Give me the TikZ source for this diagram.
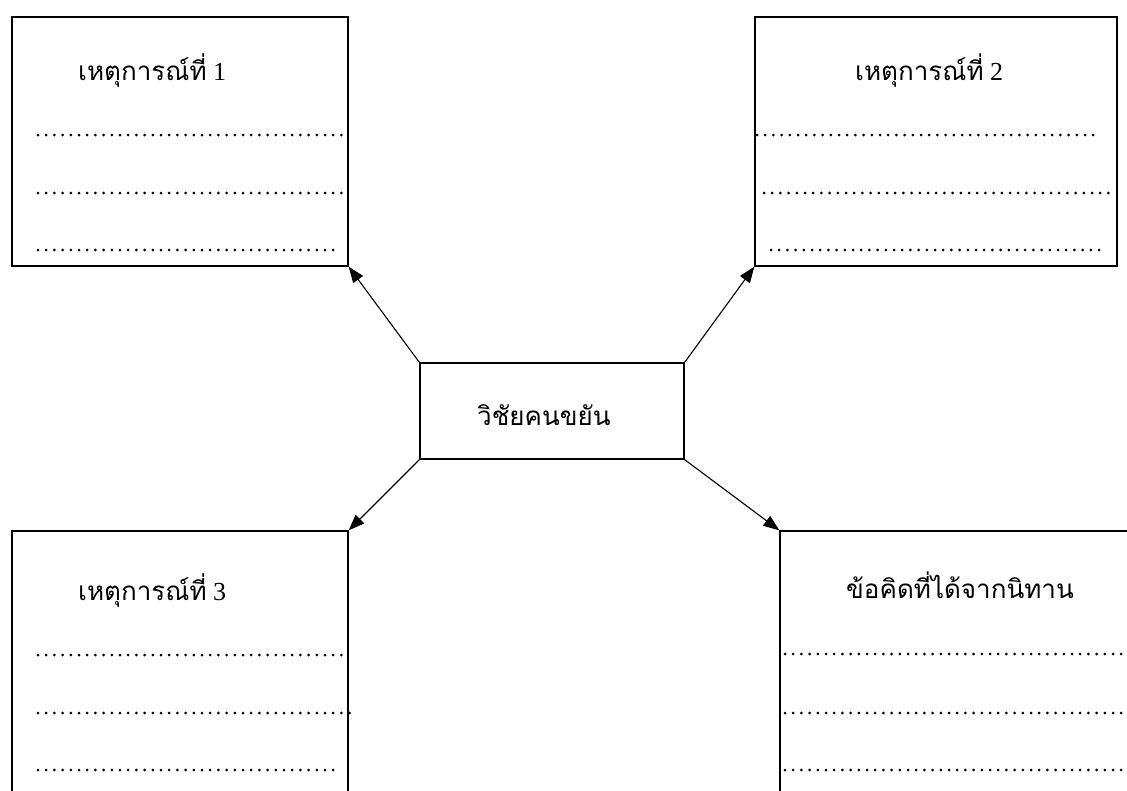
\documentclass[tikz,border=0pt]{standalone}
\usepackage{fontspec}
\setmainfont{Liberation Serif}
\newfontfamily\thai[Script=Thai]{Loma}
\usetikzlibrary{arrows.meta}
\tikzset{
  box/.style={draw, line width=1.3pt, rectangle, inner sep=0pt},
  dots/.style={line width=3pt, line cap=round, dash pattern=on 0pt off 8.2pt},
  conn/.style={line width=1.1pt, -{Triangle[length=16pt,width=12pt]}},
  title/.style={anchor=base west, inner sep=0pt, font=\fontsize{26}{30}\selectfont}
}
\begin{document}
\begin{tikzpicture}[x=1pt,y=-1pt]
\useasboundingbox (0,0) rectangle (1127,790);
\clip (0,0) rectangle (1127,790);
\fill[white] (0,0) rectangle (1127,790);
% boxes
\node[box, minimum width=336pt, minimum height=249pt] (b1) at (180,141.5) {};
\node[box, minimum width=362pt, minimum height=249pt] (b2) at (936,141.5) {};
\node[box, minimum width=336pt, minimum height=300pt] (b3) at (180,681) {};
\node[box, minimum width=400pt, minimum height=300pt] (b4) at (980,681) {};
\node[box, minimum width=264pt, minimum height=96pt] (c) at (552,411) {};
% titles
\node[title] (t1) at (78,80) {{\thai เหตุการณ์ที่} 1};
\node[title] (t2) at (855,80) {{\thai เหตุการณ์ที่} 2};
\node[title] (t3) at (78,600) {{\thai เหตุการณ์ที่} 3};
\node[title] (t4) at (846,598) {\thai ข้อคิดที่ได้จากนิทาน};
\node[title] (tc) at (477,425) {\thai วิชัยคนขยัน};
% dotted rows
\draw[dots] (38,135) -- (343,135);
\draw[dots] (38,193) -- (343,193);
\draw[dots] (38,250) -- (335,250);
\draw[dots] (757,135) -- (1097,135);
\draw[dots] (764,193) -- (1111,193);
\draw[dots] (771,250) -- (1104,250);
\draw[dots] (38,655) -- (343,655);
\draw[dots] (38,713) -- (350,713);
\draw[dots] (38,770) -- (335,770);
\draw[dots] (785,654) -- (1127,654);
\draw[dots] (785,713) -- (1127,713);
\draw[dots] (785,770) -- (1127,770);
% connectors
\draw[conn] (c.north west) -- (b1.south east);
\draw[conn] (c.north east) -- (b2.south west);
\draw[conn] (c.south west) -- (b3.north east);
\draw[conn] (c.south east) -- (b4.north west);
\end{tikzpicture}
\end{document}
